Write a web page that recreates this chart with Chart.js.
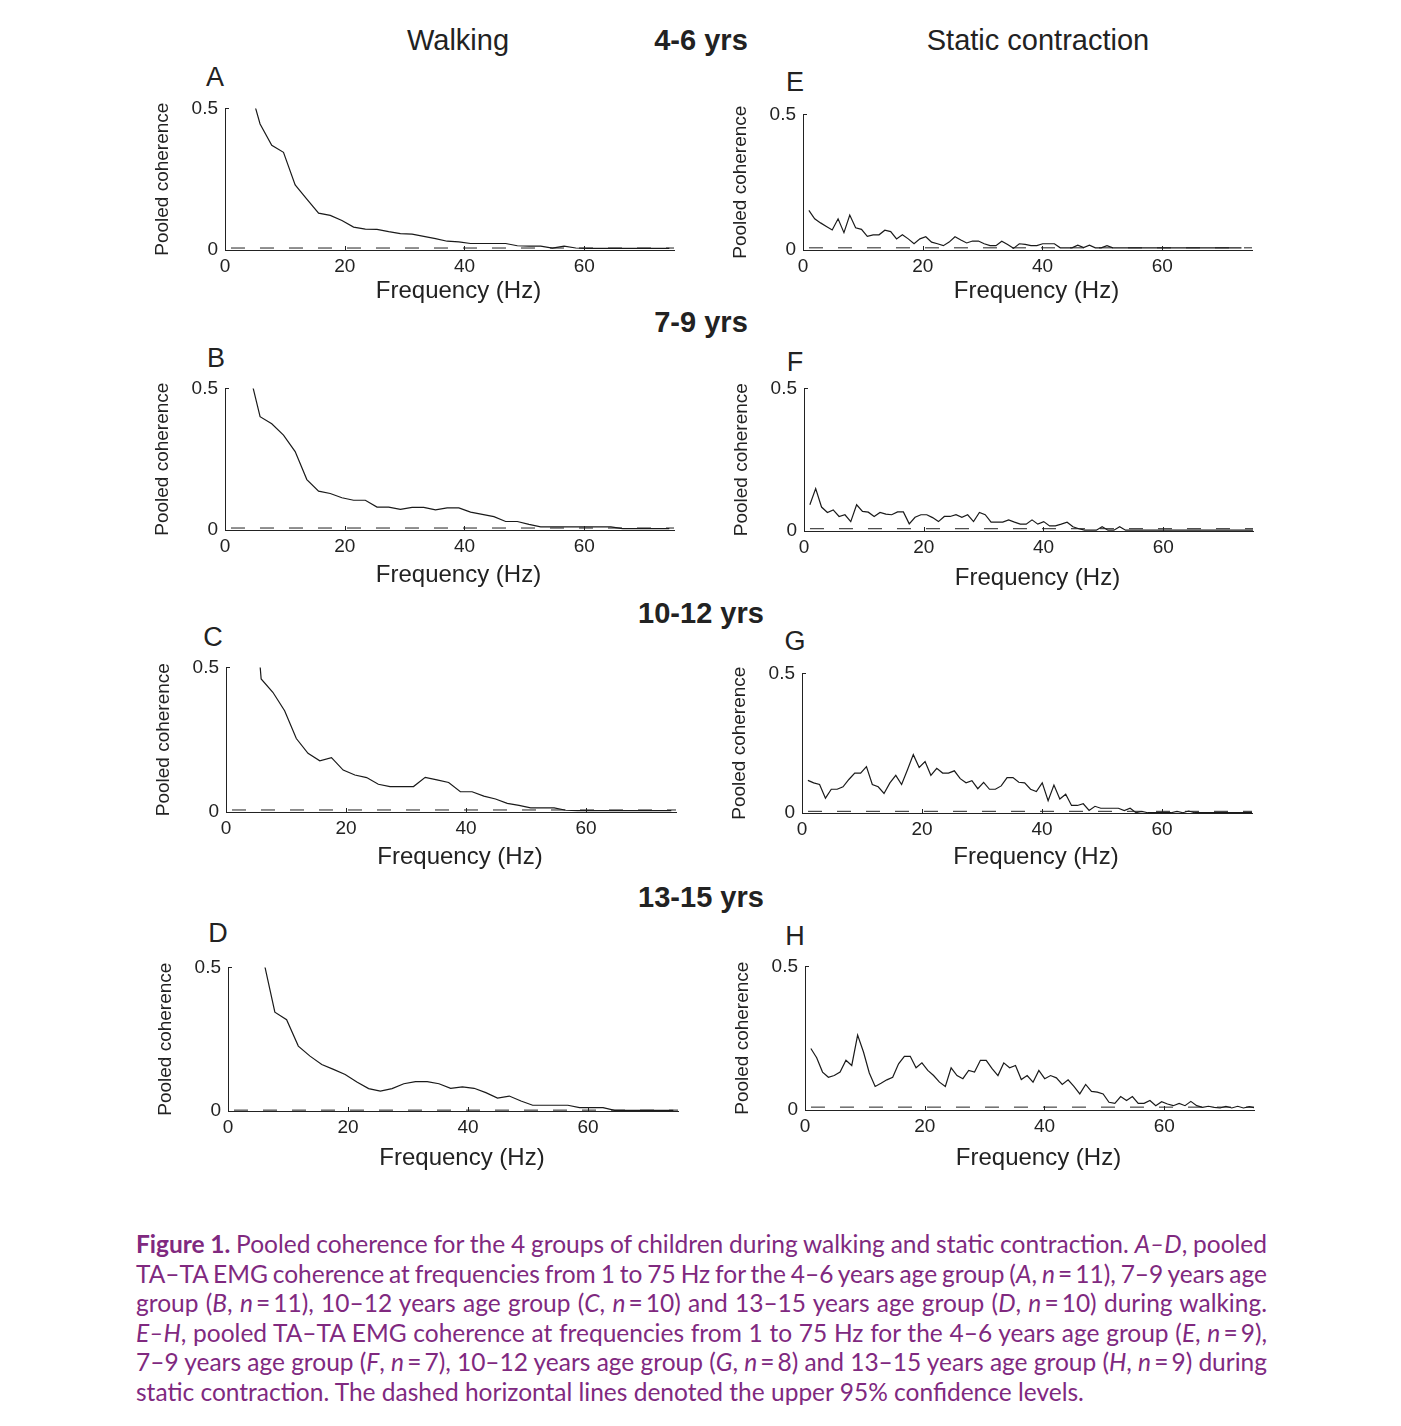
<!DOCTYPE html>
<html lang="en">
<head>
<meta charset="UTF-8">
<title>Pooled coherence - Figure 1</title>
<script src="https://cdn.jsdelivr.net/npm/chart.js"></script>
<style>
  body { margin: 0; background: #fff; font-family: "Liberation Sans", Arial, sans-serif; }
  #figure { position: relative; width: 1401px; height: 1426px; overflow: hidden; background: #fff; }
  .panel { position: absolute; }
  .head { position: absolute; font-size: 29px; color: #222; transform: translate(-50%, -50%); white-space: nowrap; }
  .head.bold { font-weight: bold; }
  .letter { position: absolute; font-size: 27px; color: #222; transform: translate(-50%, -50%); }
  #caption {
    position: absolute; left: 136px; top: 1229px; width: 1131px;
    font-family: Lato, "Open Sans", sans-serif; font-size: 24.5px; line-height: 29.5px; color: #80297f;
  }
  #caption div { white-space: nowrap; }
  #caption span { display: inline-block; }
</style>
</head>
<body>
<div id="figure">
  <div id="caption">
    <div class="fill"><span><b>Figure 1.</b> Pooled coherence for the 4 groups of children during walking and static contraction. <i>A–D</i>, pooled</span></div>
    <div class="fill"><span>TA–TA EMG coherence at frequencies from 1 to 75 Hz for the 4–6 years age group (<i>A</i>, <i>n</i>&thinsp;=&thinsp;11), 7–9 years age</span></div>
    <div class="fill"><span>group (<i>B</i>, <i>n</i>&thinsp;=&thinsp;11), 10–12 years age group (<i>C</i>, <i>n</i>&thinsp;=&thinsp;10) and 13–15 years age group (<i>D</i>, <i>n</i>&thinsp;=&thinsp;10) during walking.</span></div>
    <div class="fill"><span><i>E–H</i>, pooled TA–TA EMG coherence at frequencies from 1 to 75 Hz for the 4–6 years age group (<i>E</i>, <i>n</i>&thinsp;=&thinsp;9),</span></div>
    <div class="fill"><span>7–9 years age group (<i>F</i>, <i>n</i>&thinsp;=&thinsp;7), 10–12 years age group (<i>G</i>, <i>n</i>&thinsp;=&thinsp;8) and 13–15 years age group (<i>H</i>, <i>n</i>&thinsp;=&thinsp;9) during</span></div>
    <div><span>static contraction. The dashed horizontal lines denoted the upper 95% confidence levels.</span></div>
  </div>
</div>

<script>
  // ---- data ----
  const conditions = ['Walking', 'Static contraction'];
  const ageGroups = ['4-6 yrs', '7-9 yrs', '10-12 yrs', '13-15 yrs'];
  const panelLetters = ['A', 'B', 'C', 'D', 'E', 'F', 'G', 'H'];

  const xTickValues = [0, 20, 40, 60];
  const yTickValues = [0, 0.5];

  // frequency bins (Hz); walking ~1.95 Hz resolution, static ~0.98 Hz
  const walkFreq = [3.91, 5.86, 7.81, 9.77, 11.72, 13.67, 15.63, 17.58, 19.53, 21.48,
    23.44, 25.39, 27.34, 29.30, 31.25, 33.20, 35.16, 37.11, 39.06, 41.02,
    42.97, 44.92, 46.88, 48.83, 50.78, 52.73, 54.69, 56.64, 58.59, 60.55,
    62.50, 64.45, 66.41, 68.36, 70.31, 72.27, 74.22];
  const staticFreq = [0.98, 1.95, 2.93, 3.91, 4.88, 5.86, 6.84, 7.81, 8.79, 9.77,
    10.74, 11.72, 12.70, 13.67, 14.65, 15.63, 16.60, 17.58, 18.55, 19.53,
    20.51, 21.48, 22.46, 23.44, 24.41, 25.39, 26.37, 27.34, 28.32, 29.30,
    30.27, 31.25, 32.23, 33.20, 34.18, 35.16, 36.13, 37.11, 38.09, 39.06,
    40.04, 41.02, 41.99, 42.97, 43.95, 44.92, 45.90, 46.88, 47.85, 48.83,
    49.80, 50.78, 51.76, 52.73, 53.71, 54.69, 55.66, 56.64, 57.62, 58.59,
    59.57, 60.55, 61.52, 62.50, 63.48, 64.45, 65.43, 66.41, 67.38, 68.36,
    69.34, 70.31, 71.29, 72.27, 73.24, 74.22, 75.20];

  // walking (A-D); first value lies above the 0.5 axis limit and is clipped
  const walkA = [0.59, 0.445, 0.37, 0.345, 0.23, 0.18, 0.13, 0.122, 0.104, 0.081,
    0.074, 0.073, 0.065, 0.058, 0.056, 0.048, 0.040, 0.031, 0.029, 0.023,
    0.023, 0.023, 0.023, 0.015, 0.014, 0.014, 0.007, 0.014, 0.007, 0.006,
    0.006, 0.006, 0.006, 0.006, 0.006, 0.006, 0.006];
  const walkB = [0.57, 0.40, 0.375, 0.335, 0.277, 0.178, 0.137, 0.129, 0.114, 0.105,
    0.105, 0.081, 0.081, 0.073, 0.080, 0.080, 0.071, 0.078, 0.078, 0.063,
    0.055, 0.047, 0.030, 0.030, 0.020, 0.011, 0.011, 0.011, 0.011, 0.011,
    0.011, 0.011, 0.005, 0.005, 0.005, 0.005, 0.005];
  const walkC = [0.95, 0.46, 0.414, 0.35, 0.254, 0.203, 0.177, 0.188, 0.145, 0.128,
    0.119, 0.096, 0.088, 0.088, 0.088, 0.120, 0.111, 0.102, 0.070, 0.070,
    0.055, 0.045, 0.030, 0.023, 0.014, 0.014, 0.014, 0.006, 0.005, 0.005,
    0.005, 0.005, 0.005, 0.005, 0.005, 0.005, 0.005];
  const walkD = [0.70, 0.53, 0.344, 0.318, 0.226, 0.191, 0.162, 0.145, 0.127, 0.101,
    0.078, 0.069, 0.078, 0.095, 0.102, 0.102, 0.095, 0.079, 0.084, 0.079,
    0.064, 0.045, 0.052, 0.035, 0.020, 0.020, 0.020, 0.020, 0.012, 0.012,
    0.012, 0.002, 0.002, 0.002, 0.002, 0.002, 0.002];

  // static contraction (E-H)
  const staticE = [0.146, 0.115, 0.100, 0.087, 0.074, 0.115, 0.064, 0.129, 0.082, 0.076,
    0.050, 0.056, 0.056, 0.073, 0.068, 0.041, 0.056, 0.041, 0.023, 0.041,
    0.049, 0.029, 0.023, 0.016, 0.029, 0.049, 0.037, 0.026, 0.033, 0.033,
    0.023, 0.016, 0.016, 0.032, 0.020, 0.006, 0.023, 0.021, 0.016, 0.016,
    0.023, 0.023, 0.023, 0.008, 0.008, 0.008, 0.018, 0.009, 0.018, 0.008,
    0.008, 0.016, 0.008, 0.008, 0.008, 0.008, 0.008, 0.008, 0.008, 0.008,
    0.008, 0.008, 0.008, 0.008, 0.008, 0.008, 0.008, 0.008, 0.008, 0.008,
    0.008, 0.008, 0.008, 0.008, 0.008];
  const staticF = [0.092, 0.149, 0.084, 0.065, 0.074, 0.051, 0.057, 0.033, 0.092, 0.069,
    0.066, 0.051, 0.065, 0.059, 0.057, 0.067, 0.067, 0.025, 0.048, 0.057,
    0.057, 0.047, 0.033, 0.051, 0.051, 0.057, 0.048, 0.057, 0.033, 0.065,
    0.057, 0.031, 0.031, 0.031, 0.039, 0.031, 0.024, 0.024, 0.039, 0.024,
    0.033, 0.018, 0.018, 0.024, 0.031, 0.015, 0.008, 0.003, 0.003, 0.003,
    0.015, 0.003, 0.003, 0.015, 0.003, 0.003, 0.003, 0.003, 0.003, 0.003,
    0.003, 0.003, 0.003, 0.003, 0.003, 0.003, 0.003, 0.003, 0.003, 0.003,
    0.003, 0.003, 0.003, 0.003, 0.003, 0.003, 0.003];
  const staticG = [0.117, 0.108, 0.102, 0.053, 0.085, 0.085, 0.094, 0.120, 0.143, 0.143,
    0.166, 0.102, 0.094, 0.070, 0.108, 0.135, 0.102, 0.155, 0.209, 0.163,
    0.184, 0.135, 0.160, 0.143, 0.143, 0.151, 0.123, 0.108, 0.116, 0.087,
    0.110, 0.085, 0.085, 0.097, 0.127, 0.127, 0.110, 0.108, 0.085, 0.077,
    0.108, 0.044, 0.100, 0.050, 0.067, 0.027, 0.027, 0.033, 0.009, 0.024,
    0.017, 0.017, 0.017, 0.017, 0.009, 0.017, 0.001, 0.006, 0.001, 0.001,
    0.001, 0.001, 0.001, 0.006, 0.001, 0.007, 0.001, 0.001, 0.001, 0.001,
    0.001, 0.001, 0.001, 0.001, 0.001, 0.001, 0.001];
  const staticH = [0.214, 0.182, 0.132, 0.114, 0.120, 0.132, 0.173, 0.155, 0.261, 0.202,
    0.129, 0.082, 0.093, 0.105, 0.114, 0.161, 0.187, 0.187, 0.147, 0.164,
    0.138, 0.120, 0.097, 0.082, 0.147, 0.120, 0.109, 0.138, 0.132, 0.173,
    0.173, 0.144, 0.120, 0.164, 0.147, 0.155, 0.106, 0.120, 0.097, 0.138,
    0.109, 0.120, 0.112, 0.089, 0.105, 0.082, 0.056, 0.089, 0.065, 0.062,
    0.056, 0.027, 0.023, 0.047, 0.033, 0.047, 0.023, 0.023, 0.033, 0.015,
    0.029, 0.021, 0.015, 0.023, 0.015, 0.030, 0.015, 0.009, 0.013, 0.009,
    0.007, 0.013, 0.007, 0.013, 0.007, 0.012, 0.007];

  // upper 95% confidence level per panel, order A..H
  const confidence = [0.007, 0.007, 0.007, 0.003, 0.008, 0.008, 0.006, 0.010];
  const confRange = [1, 75];

  // ---- layout (pixel positions of each plot area) ----
  const panels = [
    { freq: walkFreq, vals: walkA, L: 225, T: 104, R: 674, B: 250, gap: 41, lx: 215, ly: 77 },
    { freq: walkFreq, vals: walkB, L: 225, T: 384, R: 674, B: 530, gap: 45, lx: 216, ly: 358 },
    { freq: walkFreq, vals: walkC, L: 226, T: 663, R: 676, B: 812, gap: 45, lx: 213, ly: 637 },
    { freq: walkFreq, vals: walkD, L: 228, T: 963, R: 678, B: 1111, gap: 47, lx: 218, ly: 933 },
    { freq: staticFreq, vals: staticE, L: 803, T: 110, R: 1252, B: 250, gap: 41, lx: 795, ly: 82 },
    { freq: staticFreq, vals: staticF, L: 804, T: 384, R: 1253, B: 531, gap: 47, lx: 795, ly: 362 },
    { freq: staticFreq, vals: staticG, L: 802, T: 669, R: 1252, B: 813, gap: 44, lx: 795, ly: 641 },
    { freq: staticFreq, vals: staticH, L: 805, T: 962, R: 1254, B: 1110, gap: 48, lx: 795, ly: 936 }
  ];
  const headers = [
    { text: conditions[0], x: 458, y: 40, bold: false },
    { text: ageGroups[0], x: 701, y: 40, bold: true },
    { text: conditions[1], x: 1038, y: 40, bold: false },
    { text: ageGroups[1], x: 701, y: 322, bold: true },
    { text: ageGroups[2], x: 701, y: 613, bold: true },
    { text: ageGroups[3], x: 701, y: 897, bold: true }
  ];

  const ink = '#222';
  const yAxisW = 78, padTop = 14, padRight = 12;
  const xTitleShift = 9;   // frequency label sits a little right of the plot centre
  const fig = document.getElementById('figure');

  // justify caption lines to the full column width (stretch or squeeze word gaps)
  const captionWidth = 1131;
  document.querySelectorAll('#caption div.fill').forEach(line => {
    const span = line.querySelector('span');
    const gaps = (span.textContent.match(/ /g) || []).length;
    const extra = captionWidth - span.getBoundingClientRect().width;
    if (gaps > 0) span.style.wordSpacing = (extra / gaps) + 'px';
  });

  headers.forEach(h => {
    const d = document.createElement('div');
    d.className = 'head' + (h.bold ? ' bold' : '');
    d.style.left = h.x + 'px';
    d.style.top = h.y + 'px';
    d.textContent = h.text;
    fig.appendChild(d);
  });

  // small inward tick marks (matlab style) and the x-axis label
  const axisExtras = {
    id: 'axisExtras',
    afterDraw(chart, args, opts) {
      const { ctx, chartArea, scales: { x, y } } = chart;
      ctx.save();
      ctx.strokeStyle = ink;
      ctx.lineWidth = 1;
      ctx.beginPath();
      xTickValues.forEach(v => {
        if (v <= 0) return;
        const px = Math.round(x.getPixelForValue(v)) + 0.5;
        ctx.moveTo(px, chartArea.bottom);
        ctx.lineTo(px, chartArea.bottom - 4);
      });
      yTickValues.forEach(v => {
        if (v <= 0) return;
        const py = Math.round(y.getPixelForValue(v)) + 0.5;
        ctx.moveTo(chartArea.left, py);
        ctx.lineTo(chartArea.left + 4, py);
      });
      ctx.stroke();

      ctx.fillStyle = ink;
      ctx.font = '24px "Liberation Sans", Arial, sans-serif';
      ctx.textAlign = 'center';
      ctx.textBaseline = 'middle';
      ctx.fillText('Frequency (Hz)', (chartArea.left + chartArea.right) / 2 + xTitleShift,
        chartArea.bottom + opts.gap);
      ctx.restore();
    }
  };

  panels.forEach((p, i) => {
    const xAxisH = p.gap + 20;
    const w = (p.R - p.L) + yAxisW + padRight;
    const h = (p.B - p.T) + padTop + xAxisH;

    const letter = document.createElement('div');
    letter.className = 'letter';
    letter.style.left = p.lx + 'px';
    letter.style.top = p.ly + 'px';
    letter.textContent = panelLetters[i];
    fig.appendChild(letter);

    const box = document.createElement('div');
    box.className = 'panel';
    box.style.left = (p.L - yAxisW) + 'px';
    box.style.top = (p.T - padTop) + 'px';
    const canvas = document.createElement('canvas');
    canvas.width = w;
    canvas.height = h;
    box.appendChild(canvas);
    fig.appendChild(box);

    new Chart(canvas, {
      type: 'line',
      data: {
        datasets: [
          {
            data: p.vals.map((v, k) => ({ x: p.freq[k], y: v })),
            borderColor: '#1a1a1a',
            borderWidth: 1.2,
            pointRadius: 0,
            tension: 0,
            clip: { left: 2, right: 0, top: 0, bottom: 2 }
          },
          {
            data: confRange.map(f => ({ x: f, y: confidence[i] })),
            borderColor: ink,
            borderWidth: 1,
            borderDash: [14, 15],
            pointRadius: 0,
            tension: 0
          }
        ]
      },
      options: {
        responsive: false,
        animation: false,
        layout: { padding: { top: padTop, right: padRight, left: 0, bottom: 0 } },
        plugins: {
          legend: { display: false },
          tooltip: { enabled: false },
          axisExtras: { gap: p.gap }
        },
        scales: {
          x: {
            type: 'linear',
            min: 0,
            max: 75,
            afterBuildTicks: s => { s.ticks = xTickValues.map(v => ({ value: v })); },
            afterFit: s => { s.height = xAxisH; },
            grid: { display: false, drawTicks: false },
            border: { display: true, color: ink, width: 1 },
            ticks: { color: ink, padding: 5, maxRotation: 0, font: { family: 'Liberation Sans', size: 19 } },
            title: { display: false }
          },
          y: {
            type: 'linear',
            min: 0,
            max: 0.5,
            afterBuildTicks: s => { s.ticks = yTickValues.map(v => ({ value: v })); },
            afterFit: s => { s.width = yAxisW; },
            grid: { display: false, drawTicks: false },
            border: { display: true, color: ink, width: 1 },
            ticks: { color: ink, padding: 7, font: { family: 'Liberation Sans', size: 19 } },
            title: { display: true, text: 'Pooled coherence', color: ink, font: { family: 'Liberation Sans', size: 19 } }
          }
        }
      },
      plugins: [axisExtras]
    });
  });
</script>
</body>
</html>
